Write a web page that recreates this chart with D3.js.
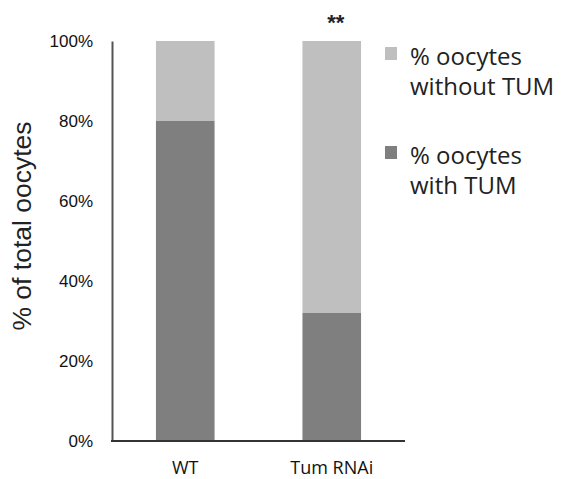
<!DOCTYPE html>
<html>
<head>
<meta charset="utf-8">
<script src="https://cdn.jsdelivr.net/npm/d3@7"></script>
<style>
  body { margin: 0; background: #fff; }
  svg { display: block; }
</style>
</head>
<body>
<script>
// values (percent of oocytes)
var groups = ["WT", "Tum RNAi"];
var withTum = [80, 32];
var withoutTum = [20, 68];
var yTicks = [0, 20, 40, 60, 80, 100];
var legendItems = ["% oocytes|without TUM", "% oocytes|with TUM"];
var signif = ["", "**"];

var colLight = "#bfbfbf", colDark = "#7f7f7f";

var svg = d3.select("body").append("svg")
    .attr("width", 561).attr("height", 479);

var x = d3.scaleBand().domain(groups).range([112, 405])
    .paddingInner(0.6).paddingOuter(0.3);
var y = d3.scaleLinear().domain([0, 100]).range([441, 41]);

var rows = groups.map(function(g, i) {
  return {g: g, with: withTum[i], without: withoutTum[i], s: signif[i]};
});

// stacked bars
var bars = svg.append("g");
bars.selectAll("rect.dark").data(rows).enter().append("rect")
    .attr("x", function(d) { return x(d.g); })
    .attr("width", x.bandwidth())
    .attr("y", function(d) { return y(d.with); })
    .attr("height", function(d) { return y(0) - y(d.with); })
    .attr("fill", colDark);
bars.selectAll("rect.light").data(rows).enter().append("rect")
    .attr("x", function(d) { return x(d.g); })
    .attr("width", x.bandwidth())
    .attr("y", function(d) { return y(d.with + d.without); })
    .attr("height", function(d) { return y(d.with) - y(d.with + d.without); })
    .attr("fill", colLight);

// axes
var yAxis = svg.append("g").attr("transform", "translate(112,0)")
    .call(d3.axisLeft(y).tickValues(yTicks).tickSize(0).tickPadding(19)
      .tickFormat(function(d) { return d + "%"; }));
yAxis.select(".domain").attr("stroke", "#555").attr("stroke-width", 2);
yAxis.selectAll("text").attr("font-family", "Liberation Sans, Arial, sans-serif")
    .attr("font-size", 17).attr("fill", "#111");

var xAxis = svg.append("g").attr("transform", "translate(0,441)")
    .call(d3.axisBottom(x).tickSize(0).tickPadding(20));
xAxis.select(".domain").attr("stroke", "#333").attr("stroke-width", 2)
    .attr("d", "M111,0H405");
xAxis.selectAll("text").attr("font-family", "Open Sans, sans-serif")
    .attr("font-size", 18).attr("fill", "#111");

// significance marks
svg.selectAll("text.sig").data(rows).enter().append("text")
    .attr("x", function(d) { return x(d.g) + x.bandwidth() / 2 + 4; })
    .attr("y", 30)
    .attr("text-anchor", "middle")
    .attr("font-family", "Liberation Sans, Arial, sans-serif")
    .attr("font-size", 22).attr("font-weight", "bold").attr("fill", "#222")
    .text(function(d) { return d.s; });

// y title
svg.append("text")
    .attr("transform", "translate(31,226) rotate(-90)")
    .attr("text-anchor", "middle")
    .attr("font-family", "Liberation Sans, Arial, sans-serif")
    .attr("font-size", 26.5).attr("fill", "#222")
    .text("% of total oocytes");

// legend
var legend = svg.selectAll("g.leg").data(legendItems).enter().append("g")
    .attr("transform", function(d, i) { return "translate(385," + (65 + i * 99) + ")"; });
legend.append("rect").attr("y", -18).attr("width", 12).attr("height", 13)
    .attr("fill", function(d, i) { return i === 0 ? colLight : colDark; });
legend.each(function(d) {
  var t = d3.select(this).append("text")
      .attr("font-family", "Open Sans, sans-serif")
      .attr("font-size", 24).attr("fill", "#222");
  d.split("|").forEach(function(line, j) {
    t.append("tspan").attr("x", 25).attr("y", j * 30).text(line);
  });
});
</script>
</body>
</html>
